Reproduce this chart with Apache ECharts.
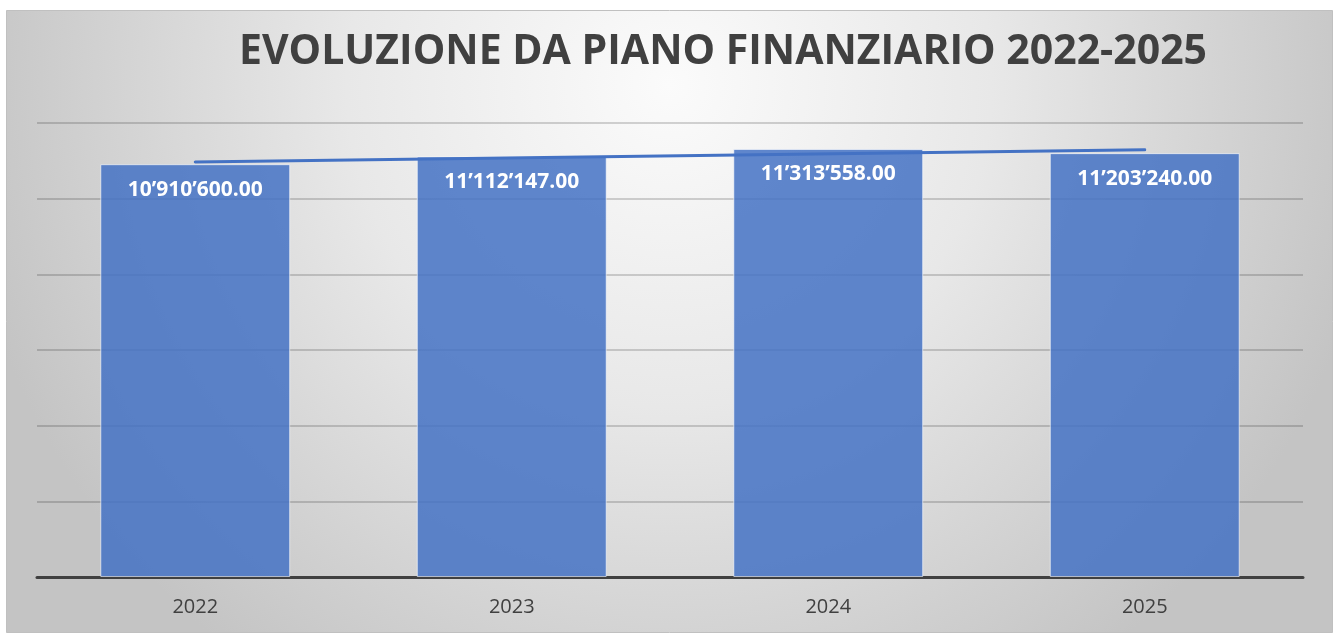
<!DOCTYPE html>
<html>
<head>
<meta charset="utf-8">
<script src="https://cdn.jsdelivr.net/npm/echarts@6/dist/echarts.min.js"></script>
<style>
  html, body { margin: 0; padding: 0; background: #fff; }
  #chart { width: 1339px; height: 633px; }
</style>
</head>
<body>
<div id="chart"></div>
<script>
// dati
var years = ['2022', '2023', '2024', '2025']
var amounts = [10910600, 11112147, 11313558, 11203240]
// linea di tendenza: inizio e fine
var trendEnds = [10970000, 11290000]
var axisMax = 12000000
var axisStep = 2000000

function fmt(v) {
    var parts = v.toFixed(2).split('.')
    return parts[0].replace(/\B(?=(\d{3})+(?!\d))/g, '\u2019') + '.' + parts[1]
}

var chart = echarts.init(document.getElementById('chart'))
var option = {
    animation: false,
    graphic: [{
        type: 'rect',
        z: -10,
        silent: true,
        shape: { x: 6.5, y: 10.5, width: 1326, height: 622 },
        style: {
            fill: {
                type: 'radial', x: 0.5, y: 0.12, r: 1.15,
                colorStops: [
                    { offset: 0, color: '#fbfbfb' },
                    { offset: 0.45, color: '#e8e8e8' },
                    { offset: 1, color: '#c4c4c4' }
                ]
            },
            stroke: '#c0c0c0',
            lineWidth: 1
        }
    }],
    title: {
        text: 'EVOLUZIONE DA PIANO FINANZIARIO 2022-2025',
        left: 718,
        top: 27,
        textAlign: 'center',
        textStyle: {
            fontFamily: 'Open Sans',
            fontWeight: 'bold',
            fontSize: 41,
            color: '#404040'
        }
    },
    grid: { left: 37, right: 36, top: 123, bottom: 56 },
    xAxis: {
        type: 'category',
        data: years,
        axisTick: { show: false },
        axisLine: { lineStyle: { color: '#404040', width: 3 } },
        axisLabel: {
            margin: 20,
            fontFamily: 'Open Sans',
            fontSize: 20,
            color: '#404040'
        }
    },
    yAxis: {
        type: 'value',
        min: 0,
        max: axisMax,
        interval: axisStep,
        axisLabel: { show: false },
        axisLine: { show: false },
        axisTick: { show: false },
        splitLine: { lineStyle: { color: 'rgba(0,0,0,0.22)', width: 1.5 } }
    },
    series: [{
        type: 'bar',
        data: amounts,
        barWidth: '60%',
        itemStyle: {
            color: 'rgba(68,114,196,0.85)',
            borderColor: 'rgba(255,255,255,0.6)',
            borderWidth: 1
        },
        label: {
            show: true,
            position: 'insideTop',
            distance: 15,
            fontFamily: 'Open Sans',
            fontWeight: 'bold',
            fontSize: 21,
            color: '#fff',
            formatter: function (p) { return fmt(p.value) }
        },
        markLine: {
            silent: true,
            symbol: ['none', 'none'],
            label: { show: false },
            lineStyle: { color: '#4472c4', width: 3, type: 'solid', cap: 'round' },
            data: [[
                { coord: [years[0], trendEnds[0]] },
                { coord: [years[years.length - 1], trendEnds[1]] }
            ]]
        }
    }]
}
chart.setOption(option)
</script>
</body>
</html>
